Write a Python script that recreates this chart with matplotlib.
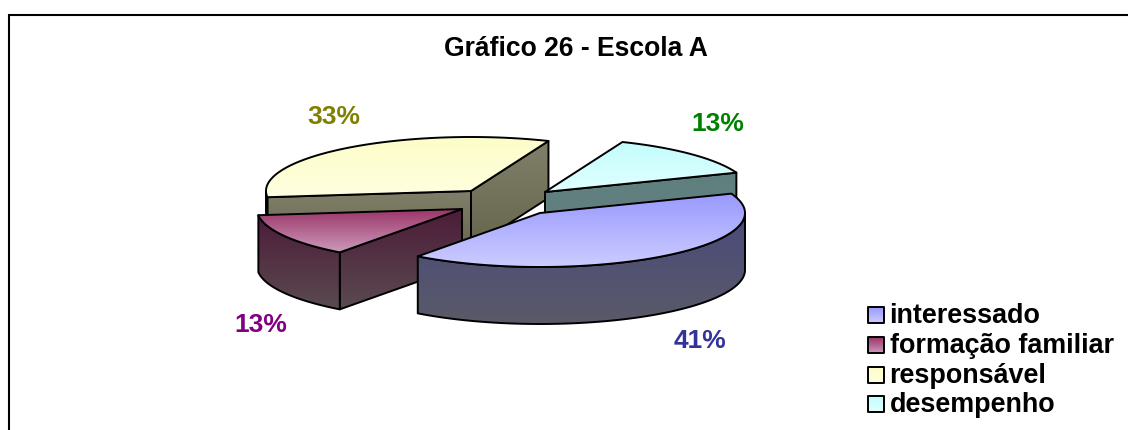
import numpy as np
import matplotlib
matplotlib.use("Agg")
import matplotlib.pyplot as plt
from matplotlib.patches import Polygon
from matplotlib.colors import LinearSegmentedColormap

title = "Gráfico 26 - Escola A"
categories = ["interessado", "formação familiar", "responsável", "desempenho"]
values = [41, 13, 33, 13]
label_colors = ["#333399", "#800080", "#808000", "#008000"]
top_colors = [("#9999ff", "#ccccff"), ("#993366", "#cc99bb"),
              ("#fdfdc8", "#ffffe0"), ("#c4fdfd", "#e0ffff")]
side_colors = [("#4a4a7c", "#5a5a68"), ("#4c1c38", "#5a4a50"),
               ("#80806a", "#66664e"), ("#5f7f7f", "#668080")]
# wedge layout (pixels): apex of each exploded slice, ellipse radii, depth
apexes = [(540, 213), (462, 209), (471, 191), (545, 192)]
label_pos = [(700, 341), (261, 325), (334, 117), (718, 124)]
RX, RY, DEPTH = 205, 54, 57
START_ANGLE = 21
FONT = "Liberation Sans"

fig = plt.figure(figsize=(11.28, 4.30), dpi=100)
ax = fig.add_axes([0, 0, 1, 1])
ax.set_xlim(0, 1128)
ax.set_ylim(430, 0)
ax.axis("off")


def grad(poly_pts, c0, c1, z):
    pts = np.asarray(poly_pts)
    cmap = LinearSegmentedColormap.from_list("g", [c0, c1])
    x0, x1, y0, y1 = pts[:, 0].min(), pts[:, 0].max(), pts[:, 1].min(), pts[:, 1].max()
    im = ax.imshow(np.linspace(0, 1, 128)[:, None], cmap=cmap, aspect="auto",
                   extent=(x0, x1, y1, y0), zorder=z, interpolation="bilinear")
    outline = Polygon(pts, closed=True, fc="none", ec="black", lw=1.4, zorder=z + 0.01,
                      joinstyle="round")
    ax.add_patch(outline)
    im.set_clip_path(outline)


# slices: clockwise from START_ANGLE
spans = np.array(values) / sum(values) * 360
starts = START_ANGLE - np.concatenate([[0], np.cumsum(spans)[:-1]])
draw_order = [2, 3, 1, 0]  # back to front
z = 2
for i in draw_order:
    ax_, ay_ = apexes[i]
    t = np.radians(np.linspace(starts[i], starts[i] - spans[i], 120))
    ax_arc = ax_ + RX * np.cos(t)
    ay_arc = ay_ - RY * np.sin(t)
    # radial side faces, visible only when they face the viewer
    first = (ax_arc[0], ay_arc[0])
    last = (ax_arc[-1], ay_arc[-1])
    if first[0] < ax_:
        q = [(ax_, ay_), first, (first[0], first[1] + DEPTH), (ax_, ay_ + DEPTH)]
        grad(q, *side_colors[i], z); z += 1
    if last[0] > ax_:
        q = [last, (ax_, ay_), (ax_, ay_ + DEPTH), (last[0], last[1] + DEPTH)]
        grad(q, *side_colors[i], z); z += 1
    # outer curved side: front half of the ellipse only
    mask = np.sin(t) <= 0
    if mask.sum() > 1:
        xs, ys = ax_arc[mask], ay_arc[mask]
        q = np.r_[np.c_[xs, ys], np.c_[xs[::-1], ys[::-1] + DEPTH]]
        grad(q, *side_colors[i], z); z += 1
    top = np.r_[[(ax_, ay_)], np.c_[ax_arc, ay_arc]]
    grad(top, *top_colors[i], z); z += 1

for v, pos, col in zip(values, label_pos, label_colors):
    ax.text(*pos, f"{v}%", color=col, fontsize=19, fontweight="bold", family=FONT,
            ha="center", va="center", zorder=50)

ax.text(575.5, 49, title, fontsize=19.1, fontweight="bold", family=FONT, ha="center",
        va="center", color="black", zorder=50)

leg_y = [315, 345, 375, 404]
for name, y, (c0, c1) in zip(categories, leg_y, top_colors):
    grad([(868, y - 8), (884, y - 8), (884, y + 8), (868, y + 8)], c0, c1, 40)
    ax.text(889.5, y + 1, name, fontsize=19.4, fontweight="bold", family=FONT, ha="left",
            va="center", color="black", zorder=50)

# chart frame: top and left edges only, the others are cropped away
ax.plot([9, 9, 1128], [430, 15, 15], color="black", lw=1.5, zorder=1,
        solid_joinstyle="miter")
ax.set_xlim(0, 1128)
ax.set_ylim(430, 0)
fig.savefig("out.png", dpi=100, facecolor="white")
